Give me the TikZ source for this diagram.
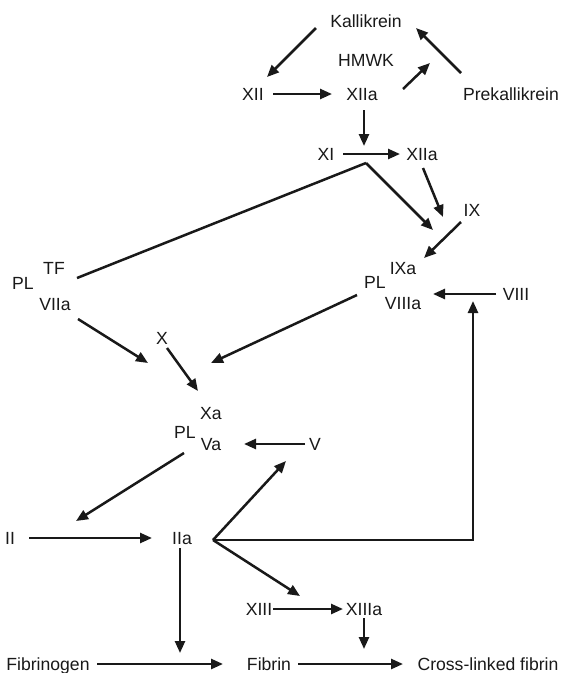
\documentclass[tikz,border=0pt]{standalone}
\usepackage{fontspec}
\setmainfont{Liberation Sans}
\usetikzlibrary{arrows.meta,calc}

\tikzset{
  lbl/.style={inner sep=0pt, text height=12.7pt, text depth=0pt,
              font=\fontsize{17.6}{20}\selectfont, text=black!90},
  conn/.style={line width=2.5pt, color=black!90},
  arr/.style={conn, -{Triangle[length=12pt,width=10pt]}},
}

\begin{document}
\begin{tikzpicture}[x=1pt,y=-1pt]
  \fill[white] (0,0) rectangle (561,673);
  \useasboundingbox (0,0) rectangle (561,673);

  % contact pathway
  \node[lbl] (kal)   at (366,21)  {Kallikrein};
  \node[lbl] (hmwk)  at (366,60)  {HMWK};
  \node[lbl] (xii)   at (253,94)  {XII};
  \node[lbl] (xiia)  at (362,94)  {XIIa};
  \node[lbl] (prek)  at (511,94)  {Prekallikrein};
  \node[lbl] (xi)    at (326,154) {XI};
  \node[lbl] (xiib)  at (422,154) {XIIa};
  \node[lbl] (ix)    at (472,210) {IX};

  % tenase complexes
  \node[lbl] (ixa)   at (403,268) {IXa};
  \node[lbl] (plb)   at (375,282) {PL};
  \node[lbl] (viiia) at (403,303) {VIIIa};
  \node[lbl] (viii)  at (516,294) {VIII};
  \node[lbl] (tf)    at (54,268)  {TF};
  \node[lbl] (pla)   at (23,283)  {PL};
  \node[lbl] (viia)  at (55,304)  {VIIa};

  % prothrombinase
  \node[lbl] (x)     at (162,338) {X};
  \node[lbl] (xa)    at (211,413) {Xa};
  \node[lbl] (plc)   at (185,432) {PL};
  \node[lbl] (va)    at (211,444) {Va};
  \node[lbl] (v)     at (315,444) {V};

  % thrombin and fibrin
  \node[lbl] (ii)    at (10,538)  {II};
  \node[lbl] (iia)   at (182,538) {IIa};
  \node[lbl] (xiii)  at (259,609) {XIII};
  \node[lbl] (xiiia) at (364,609) {XIIIa};
  \node[lbl] (fgn)   at (48,664)  {Fibrinogen};
  \node[lbl] (fib)   at (269,664) {Fibrin};
  \node[lbl] (cross) at (488,664) {Cross-linked fibrin};

  % free ends of connectors
  \coordinate (hmwktip) at (430,63);
  \coordinate (xidrop)  at (364,146);
  \coordinate (apex)    at (366,163);
  \coordinate (ixatip)  at (433,230);
  \coordinate (viiadrop) at (148,363);
  \coordinate (viiiadrop) at (211,363);
  \coordinate (branch)  at (213,540);
  \coordinate (corner)  at (473,540);
  \coordinate (viiitip) at (473,301);
  \coordinate (fibtip)  at (180,653);
  \coordinate (crosstip) at (364,649);

  % contact activation
  \draw[arr] ($(kal)+(-50,7)$) -- ($(xii)+(14,-17)$);
  \draw[arr] ($(xii)+(20,0)$) -- ($(xiia)+(-30,0)$);
  \draw[arr] ($(xiia)+(41,-5)$) -- (hmwktip);
  \draw[arr] ($(prek)+(-50,-21)$) -- ($(kal)+(50,7)$);
  \draw[arr] ($(xiia)+(2,16)$) -- (xidrop);
  \draw[arr] ($(xi)+(17,0)$) -- ($(xiib)+(-22,0)$);
  \draw[arr] ($(xiib)+(1,14)$) -- ($(ix)+(-29,7)$);
  \draw[arr] ($(ix)+(-11,12)$) -- ($(ixa)+(21,-10)$);

  % tissue factor link and tenase
  \draw[conn] ($(tf)+(23,10)$) -- (apex);
  \draw[arr] (apex) -- (ixatip);
  \draw[arr] ($(viii)+(-20,0)$) -- ($(viiia)+(30,-9)$);
  \draw[arr] ($(viia)+(23,15)$) -- (viiadrop);
  \draw[arr] ($(plb)+(-18,13)$) -- (viiiadrop);
  \draw[arr] ($(x)+(5,10)$) -- ($(xa)+(-13,-22)$);

  % prothrombinase and thrombin feedback
  \draw[arr] ($(v)+(-10,0)$) -- ($(va)+(33,0)$);
  \draw[arr] ($(va)+(-27,9)$) -- ($(ii)+(66,-17)$);
  \draw[arr] ($(ii)+(19,0)$) -- ($(iia)+(-30,0)$);
  \draw[arr] (branch) -- ($(v)+(-29,17)$);
  \draw[arr, line join=miter] (branch) -- (corner) -- (viiitip);
  \draw[arr] (branch) -- ($(xiii)+(41,-13)$);
  \draw[conn] ($(iia)+(31,2)$) -- (branch);

  % fibrin formation
  \draw[arr] ($(iia)+(-2,10)$) -- (fibtip);
  \draw[arr] ($(xiii)+(14,0)$) -- ($(xiiia)+(-21,0)$);
  \draw[arr] ($(xiiia)+(0,9)$) -- (crosstip);
  \draw[arr] ($(fgn)+(49,0)$) -- ($(fib)+(-46,0)$);
  \draw[arr] ($(fib)+(29,0)$) -- ($(cross)+(-85,0)$);
\end{tikzpicture}
\end{document}
